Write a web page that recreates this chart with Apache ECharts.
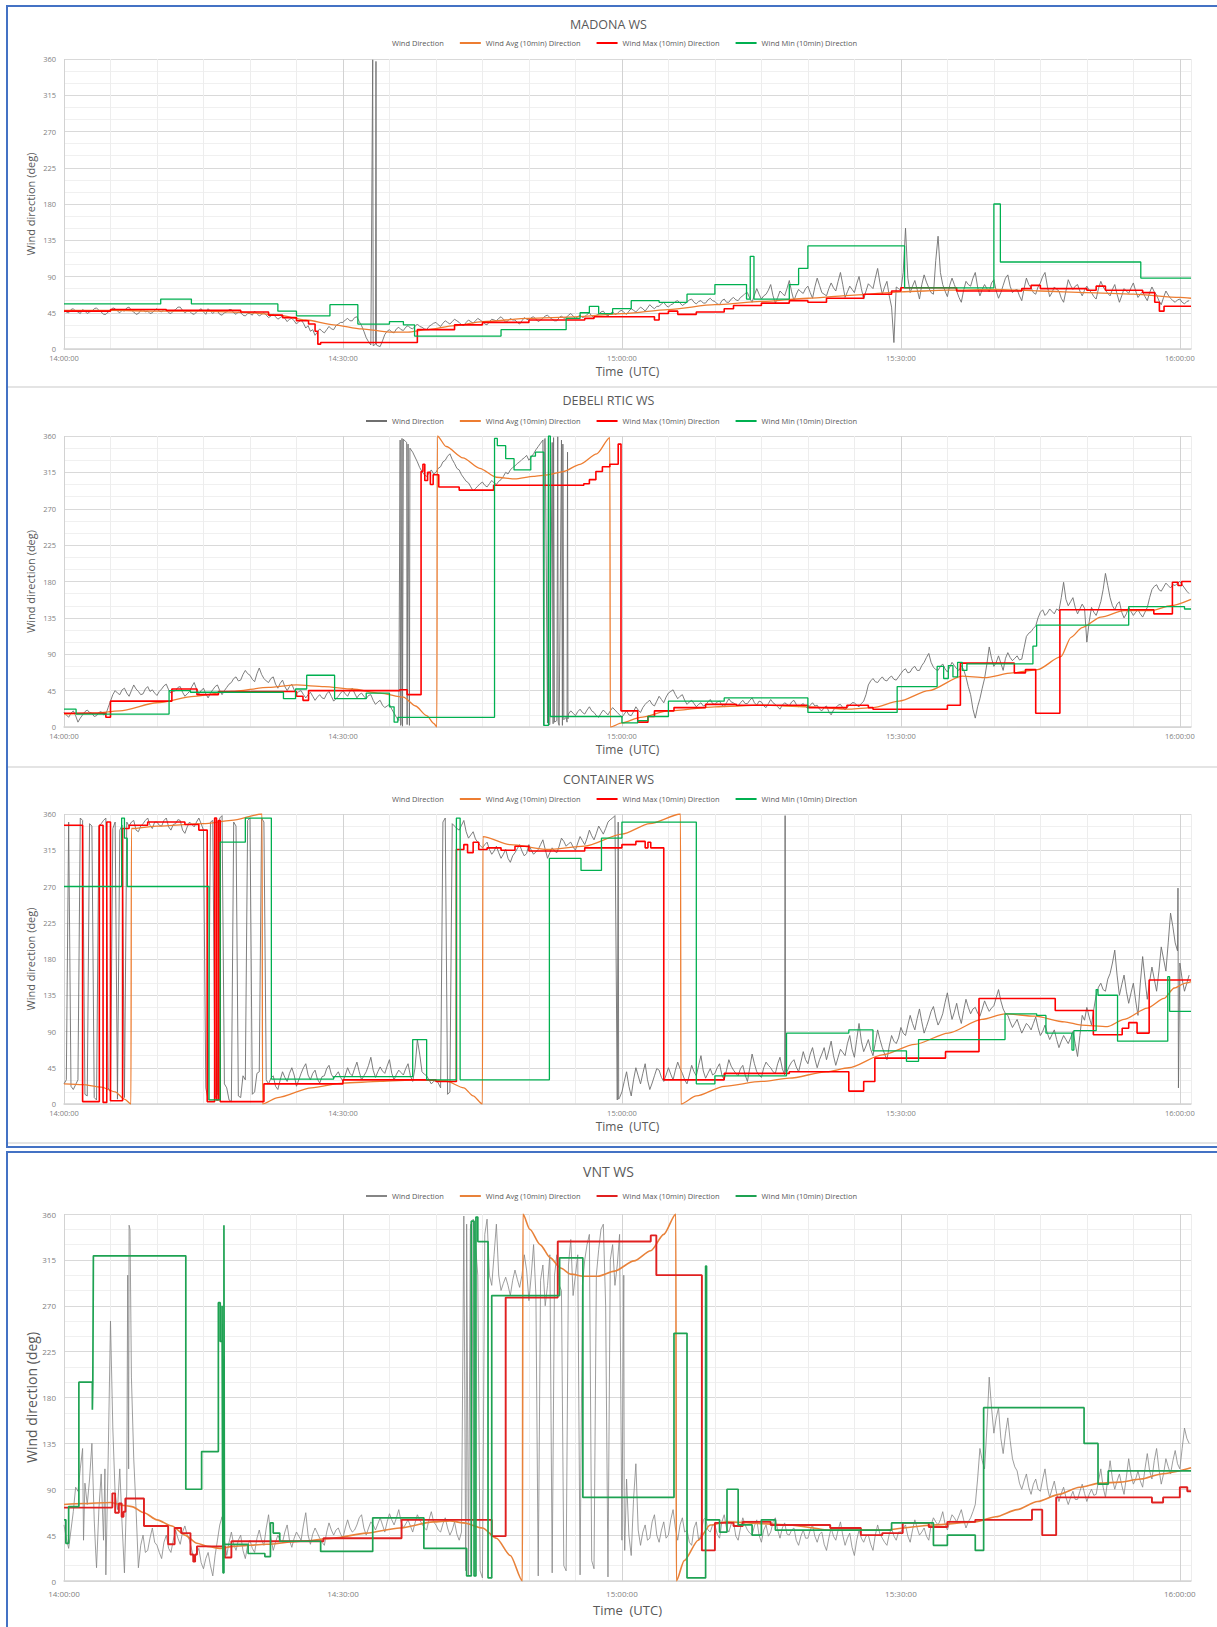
<!DOCTYPE html>
<html>
<head>
<meta charset="utf-8">
<title>Wind direction – weather stations</title>
<script src="https://cdn.jsdelivr.net/npm/echarts@6/dist/echarts.min.js"></script>
<style>
  html, body { margin: 0; padding: 0; background: #fff; width: 1217px; height: 1627px; overflow: hidden; }
  .box { position: absolute; border: 2px solid #4472c4; box-sizing: border-box; }
  .sep { position: absolute; height: 2px; background: #e4e4e4; }
  .chart { position: absolute; left: 0; width: 1217px; }
</style>
</head>
<body>
<div class="box" style="left:6px;top:5px;width:1240px;height:1143px"></div>
<div class="box" style="left:6px;top:1151px;width:1240px;height:520px"></div>
<div class="sep" style="left:8px;top:386px;width:1209px"></div>
<div class="sep" style="left:8px;top:766px;width:1209px"></div>
<div class="sep" style="left:8px;top:1142px;width:1209px"></div>
<div id="madona" class="chart" style="top:0;height:386px"></div>
<div id="debeli" class="chart" style="top:386px;height:380px"></div>
<div id="container" class="chart" style="top:766px;height:376px"></div>
<div id="vnt" class="chart" style="top:1153px;height:474px"></div>
<script>
// Time axis: minutes after 14:00 UTC. Raw direction samples are stored in
// 10-minute blocks of 15-second readings; extra short gusts/wraps are listed separately.
const timeTicks = ['14:00:00', '14:30:00', '15:00:00', '15:30:00', '16:00:00'];
const dirTicks = [0, 45, 90, 135, 180, 225, 270, 315, 360];
const seriesNames = ['Wind Direction', 'Wind Avg (10min) Direction', 'Wind Max (10min) Direction', 'Wind Min (10min) Direction'];
const SAMPLE_STEP = 0.25; // minutes between raw readings

// ---------- MADONA WS ----------
const madonaDir = [
  [48,46,45,49,50,47,46,44,49,47,44,46,47,50,51,48,46,43,43,46,48,51,50,47,45,48,47,51,52,48,46,43,44,48,49,46,47,44,45,48],
  [50,47,46,49,48,45,44,47,49,52,52,48,45,47,47,44,43,46,48,50,46,43,50,47,44,47,47,43,42,45,46,49,49,45,43,46,45,42,41,44],
  [44,42,47,44,41,43,45,42,39,41,43,40,37,39,41,38,34,37,38,35,31,34,36,32,26,29,22,24,17,21,25,22,20,24,28,25,24,29,31,33],
  [33,36,38,35,35,39,40,34,29,22,14,9,5,8,6,4,3,10,18,22,24,21,20,25,27,24,23,27,29,26,25,28,31,28,27,25,24,28,30,32],
  [33,30,28,32,35,33,31,34,37,35,33,30,29,33,36,34,32,35,38,36,34,31,30,34,37,36,35,38,40,37,33,35,38,36,36,33,31,35,39,37],
  [36,39,40,37,34,36,38,41,42,39,37,35,35,39,41,38,39,42,44,41,38,40,42,39,40,43,45,41,39,42,43,46,47,43,41,44,46,43,44,47],
  [48,45,43,47,50,48,46,49,52,50,47,51,55,52,50,53,53,56,58,54,52,55,56,59,60,57,54,56,58,61,62,58,56,59,60,57,57,61,63,60],
  [59,56,55,60,62,58,58,62,64,61,60,64,66,69,70,63,58,67,75,68,62,66,68,73,80,66,57,64,72,69,66,75,85,71,60,68,74,71,69,75],
  [78,70,63,77,88,79,70,68,66,75,82,76,72,84,95,80,64,71,78,74,70,81,90,75,62,72,81,78,75,88,100,82,68,77,84,66,52,8,77,75],
  [73,95,150,88,70,78,85,74,62,80,92,83,76,70,68,110,140,95,80,72,65,79,88,80,72,64,58,73,84,80,78,88,95,77,66,74,80,75,71,82],
  [86,72,63,70,79,88,92,78,70,73,74,66,60,75,88,80,76,70,68,77,82,90,95,78,65,70,77,74,72,63,58,72,86,79,74,78,80,72,66,73],
  [78,73,70,65,62,75,84,77,73,69,66,74,80,68,58,66,75,72,69,76,82,72,64,68,71,65,60,70,77,71,67,60,55,64,72,67,63,60,58,61],
  [62,58,56,59,60]
];
const madonaDirExtra = [[33.2,359],[33.25,4],[33.55,357],[33.6,5]];
const madonaAvg = [[0,48],[5,48],[10,47],[15,47],[20,45],[23,42],[26,36],[29,30],[32,25],[35,21],[37,21],[39,24],[42,29],[45,34],[50,38],[55,40],[60,44],[65,49],[70,55],[75,59],[80,63],[85,67],[90,71],[95,73],[100,74],[105,72],[110,70],[115,68],[120,64],[121.2,63]];
const madonaMax = [[0,47],[5,49],[11,48],[19,46],[22,42],[23.5,39],[25,35],[26.3,31],[27,22],[27.3,6],[27.6,8],[38,24],[42,30],[45,33],[50,36],[56,38],[57,40],[63.5,36],[64,44],[65,47],[66,43],[68,46],[71,50],[72,54],[75,57],[78,60],[80,58],[82,63],[86,68],[89,72],[90,76],[96,72],[103,75],[104,79],[105,75],[110,73],[111,78],[112,73],[116,70],[117.3,58],[117.8,47],[118.3,53],[121.2,53]];
const madonaMin = [[0,56],[10.4,62],[13.7,56],[23,47],[25,41],[28.6,55],[31.6,31],[35,34],[36.5,30],[37.7,16],[47,24],[54,38],[55.5,45],[56.5,53],[57.5,44],[59,50],[61,60],[64,58],[67,68],[70,80],[73.4,62],[73.8,115],[74.2,62],[78,80],[79,100],[80,128],[90.4,76],[100,180],[100.7,108],[115.8,88],[121.2,88]];

// ---------- DEBELI RTIC WS ----------
const debeliDir = [
  [18,15,12,17,20,14,6,11,15,19,21,18,17,13,14,18,19,15,16,24,32,40,45,42,40,46,48,42,38,45,52,47,44,40,41,47,50,44,46,42],
  [39,44,47,51,53,46,42,44,45,49,50,43,38,41,44,50,55,47,41,45,48,41,36,42,46,50,52,45,40,45,49,53,55,60,62,57,58,65,70,66],
  [64,59,56,66,73,65,60,57,55,60,62,53,48,54,58,50,45,50,53,46,41,44,45,40,36,40,43,38,33,37,40,36,35,41,44,38,32,35,38,42],
  [45,41,38,44,48,42,36,40,42,38,35,39,40,33,28,31,33,27,24,26,28,22,17,12,8,4,356,353,350,345,340,334,328,321,316,312,310,314,318,313],
  [315,320,322,328,330,335,338,331,326,320,318,312,308,304,302,297,292,295,298,301,303,299,297,301,305,302,300,304,306,310,315,313,318,321,323,326,328,331,333,336],
  [330,334,338,343,347,351,355,357,5,3,352,6,8,2,355,9,12,16,20,17,14,19,22,18,16,21,25,20,18,14,12,17,21,18,15,20,24,21,18,15],
  [12,16,20,15,14,19,25,21,18,24,28,31,33,28,26,32,38,34,30,37,42,44,46,40,35,38,40,33,28,31,33,29,25,28,30,26,27,31,34,29],
  [28,31,32,27,25,30,35,31,30,27,26,30,33,29,29,33,36,30,27,32,31,26,24,29,34,30,28,25,22,27,30,28,26,31,33,28,25,27,29,25],
  [23,27,30,26,27,22,20,24,26,19,15,21,24,27,28,24,21,25,27,30,30,27,25,29,32,40,52,57,60,56,55,59,62,58,57,61,63,59,58,62],
  [66,70,72,67,68,73,75,70,70,76,80,86,91,80,74,71,70,75,78,72,68,74,80,76,72,70,76,71,62,50,40,22,11,25,35,48,60,78,99,85],
  [75,80,88,79,70,85,92,86,82,85,88,83,84,98,112,116,118,122,125,135,142,145,138,141,146,143,140,146,144,160,179,158,150,155,160,148,140,146,152,147],
  [105,130,148,142,138,146,155,170,190,175,160,150,145,152,155,142,135,140,148,143,138,142,145,140,136,142,148,160,170,174,176,170,168,173,178,175,172,176,175,178],
  [180,176,172,168,165]
];
const debeliDirExtra = [[36.15,355],[36.2,2],[36.35,357],[36.4,1],[36.85,352],[36.9,3],[37.15,2],[37.2,345],
  [51.6,2],[51.65,356],[52.1,357],[52.15,3],[52.6,4],[52.65,358],[53.1,359],[53.15,6],[53.6,2],[53.65,350],[54.1,6],[54.15,340],[54.2,10]];
const debeliAvg = [[0,16],[3,17],[6,20],[10,30],[14,38],[18,44],[22,49],[25,52],[28,50],[31,47],[34,42],[36.5,37],[37.8,26],[39,14],[39.8,4],[40.1,0],[40.15,360],[41.1,347],[42.9,333],[44.7,320],[46.5,309],[48.5,307],[50.5,310],[52,312],[53.7,316],[55.5,325],[57.3,338],[58.7,358],[58.75,0],[60,5],[62,12],[65,20],[70,25],[75,27],[80,25],[84.5,22],[87,24],[89.8,32],[93,45],[96.6,63],[99,61],[102,67],[104.7,71],[107.2,87],[108.3,111],[109.5,123],[111.5,136],[114,144],[117,144],[119,150],[121.2,158]];
const debeliMax = [[0,17],[4.5,12],[5,32],[11.6,47],[14.3,40],[16.6,44],[25,38],[25.7,33],[26.3,45],[36.1,46],[36.9,40],[38.4,316],[38.6,325],[38.8,305],[39.1,315],[39.4,300],[39.7,312],[40.3,297],[42.5,293],[46.2,299],[55.9,301],[56.5,306],[57.2,316],[57.9,322],[58.7,325],[59.6,350],[59.9,20],[61.7,6],[62.8,13],[63.5,20],[65.6,24],[69,28],[72.3,27],[80,24],[84.2,27],[86.5,24],[87,22],[95,27],[96.4,79],[102.2,67],[103.4,71],[104.5,17],[107.1,145],[117.2,140],[119.2,179],[119.8,175],[120.2,180],[121.2,180]];
const debeliMin = [[0,22],[1.3,16],[11.3,45],[13.6,43],[23.6,35],[24.9,47],[26.1,64],[29.1,35],[32.5,42],[35,25],[35.5,6],[35.9,12],[46.3,357],[46.6,348],[47.5,332],[48.4,318],[50.2,335],[50.7,340],[51.6,2],[52.1,360],[52.3,13],[60,5],[61.7,8],[62.8,13],[65,32],[71,36],[80,18],[89.6,50],[93.9,75],[94.6,60],[95.1,76],[95.6,62],[96.1,80],[96.6,70],[97.1,78],[104.2,100],[104.6,126],[114.5,149],[120.5,146],[121.2,146]];

// ---------- CONTAINER WS ----------
const containerDir = [
  [25,30,350,22,18,24,30,355,352,12,10,348,345,8,5,345,348,352,355,20,15,342,350,6,340,346,8,350,345,350,352,340,338,345,348,352,355,346,342,350],
  [350,346,345,352,355,344,340,347,348,353,352,340,336,344,350,347,344,350,355,348,340,20,5,350,352,8,12,355,358,25,20,5,3,350,345,10,8,35,30,352],
  [355,12,15,38,40,355,350,30,25,32,35,22,18,30,40,33,28,38,45,36,22,30,38,45,50,36,30,38,42,31,26,34,35,44,48,37,32,36,40,33],
  [28,36,45,38,35,44,52,40,30,35,40,48,58,42,33,40,46,41,38,47,55,38,30,37,42,39,36,44,50,35,28,45,80,62,40,37,35,30,25,28],
  [30,26,20,350,355,12,15,348,345,342,340,346,352,338,330,334,338,329,325,321,318,322,325,316,310,314,320,312,305,310,316,305,300,308,312,317,322,314,308,311],
  [322,315,310,313,316,322,328,316,305,312,318,314,312,320,330,326,320,323,325,319,315,324,332,327,322,330,340,333,328,336,345,340,335,342,350,353,355,358,5,8],
  [15,28,40,22,10,30,45,35,25,38,50,30,18,26,35,44,42,33,28,36,45,37,30,42,52,44,38,30,25,36,48,40,35,48,60,41,32,38,44,36],
  [38,45,50,36,30,42,55,47,42,38,35,44,48,36,28,45,62,50,40,36,33,45,52,48,45,40,38,50,58,44,36,40,47,52,55,46,40,52,65,55],
  [50,62,70,56,45,55,62,70,55,66,78,60,48,58,68,64,60,75,85,68,58,80,100,78,65,72,80,68,60,76,92,80,70,62,55,72,85,78,75,82],
  [95,88,85,98,110,100,92,106,118,102,88,96,105,115,121,108,98,104,112,126,138,120,105,114,125,110,100,116,130,120,112,118,120,113,109,118,128,121,115,119],
  [122,132,142,128,118,112,110,102,95,100,105,96,88,94,100,97,92,100,108,95,85,90,98,88,80,86,92,80,70,78,85,80,75,82,90,75,59,85,110,104],
  [120,108,98,118,135,145,150,142,140,155,162,175,191,160,135,148,160,140,125,138,150,128,110,150,183,155,130,152,170,155,140,165,195,180,165,200,237,220,200,190],
  [175,155,140,150,160]
];
const containerDirExtra = [[59.6,350],[59.65,6],[77.55,358],[77.6,40],[119.8,268],[119.85,20]];
const containerAvg = [[0,25],[2,24],[4,21],[5.5,15],[6.5,6],[7.2,0],[7.25,342],[10,345],[15,348],[18,352],[21.3,360],[21.35,0],[23,8],[26.6,20],[30,26],[34,28],[38,30],[41,29],[43,20],[44,10],[45,0],[45.05,332],[48,322],[52,316],[56,320],[60,335],[63,348],[66.3,360],[66.35,0],[68,10],[71,22],[75,28],[78,32],[82,40],[84.4,45],[88,61],[91.5,74],[95.1,88],[98.7,105],[101.2,112],[104.4,109],[107.6,102],[109.4,98],[112.2,96],[114,105],[116.5,119],[118.3,131],[119.4,144],[120.6,150],[121.2,152]];
const containerMax = [[0,346],[2,3],[3.8,346],[4.2,2],[4.6,350],[5,4],[6.3,342],[7,346],[9,350],[13,347],[14.5,340],[15.4,3],[16.2,355],[16.4,5],[16.6,352],[16.8,3],[21.5,25],[30,30],[40,28],[42.2,316],[43,322],[43.4,312],[44,325],[44.6,316],[45.5,318],[47,315],[48.5,320],[50,314],[56,318],[60,322],[61.5,326],[62.5,318],[62.8,325],[63.1,318],[64.5,30],[71,38],[78,40],[84.4,16],[86,28],[87.2,57],[94.8,65],[98.4,131],[106.6,116],[110.7,86],[113.8,94],[114.5,101],[115.4,88],[116.7,154],[121.2,154]];
const containerMin = [[0,270],[6,270],[6.2,355],[6.5,330],[6.8,270],[15.4,270],[15.6,5],[16.8,325],[19.5,355],[22.3,31],[29,34],[37.5,80],[39,30],[42.2,355],[42.6,30],[52.2,305],[55.6,290],[57.8,330],[60,350],[68,25],[70,35],[77.7,88],[84.4,92],[87,66],[90.6,53],[91.9,80],[101.2,112],[104.6,110],[105.6,88],[108.4,67],[108.6,91],[111,142],[111.2,135],[113.3,78],[118.7,158],[118.9,115],[121.2,115]];

// ---------- VNT WS ----------
const vntDir = [
  [55,42,32,50,68,92,88,110,130,96,75,100,135,60,13,70,105,40,6,120,255,150,85,70,110,55,8,90,349,200,120,70,13,35,45,28,30,42,52,38],
  [35,28,22,38,45,32,28,40,50,42,36,48,54,45,40,30,20,27,32,18,12,22,28,15,5,25,40,55,63,40,25,38,48,36,30,40,45,30,22,35],
  [40,32,28,42,50,40,35,52,65,42,30,38,45,40,38,48,55,40,33,42,48,44,40,55,67,45,36,46,52,47,42,38,35,48,57,50,45,50,52,46],
  [42,52,60,52,48,50,55,62,65,52,45,52,58,55,50,56,62,55,48,58,66,60,55,62,70,58,52,56,60,54,48,57,65,60,56,52,50,60,68,58],
  [55,50,48,56,62,52,45,50,58,46,40,48,358,60,5,350,355,330,300,10,3,340,355,300,290,320,350,300,285,292,298,290,280,295,305,296,288,300,320,305],
  [275,300,330,280,5,295,310,270,290,320,8,300,320,290,285,15,10,310,335,280,300,320,6,290,315,330,340,20,12,300,325,345,350,270,4,315,330,290,310,340],
  [40,60,100,45,25,80,115,50,35,48,55,40,42,58,65,45,38,50,58,42,45,60,70,52,40,55,62,48,50,38,35,52,58,40,45,60,62,50,48,55],
  [55,46,42,58,65,52,48,56,58,44,40,52,62,55,50,47,45,54,60,45,38,50,55,44,48,58,62,50,42,52,57,46,45,50,52,40,35,44,50,42],
  [42,50,55,44,38,46,48,36,30,42,52,44,40,50,58,45,35,42,47,33,25,40,50,42,38,44,45,36,30,45,55,46,42,38,35,46,52,44,40,48],
  [48,52,55,44,38,50,60,52,45,48,52,44,40,55,62,58,55,60,68,56,50,58,65,62,58,64,70,60,52,58,62,68,75,100,130,118,110,150,200,170],
  [145,160,170,140,125,145,160,138,120,112,108,96,90,98,105,92,85,95,100,90,88,100,110,92,82,90,98,86,78,86,92,82,75,82,88,80,80,88,95,86],
  [78,85,90,84,85,98,110,92,82,100,118,100,90,98,105,94,85,102,120,104,95,100,108,98,92,110,125,108,100,118,130,110,95,105,120,112,105,118,128,115],
  [110,130,150,140,135]
];
const vntDirExtra = [[2.1,40],[3.4,30],[4.4,110],[6.85,300],[6.95,110],[7.1,345],
  [43.2,10],[43.3,350],[43.7,345],[43.8,8],[60.2,300],[60.3,30]];
const vntAvg = [[0,75],[2,76],[5,77],[6.5,74],[7.3,73],[8.6,67],[10,60],[11.6,54],[13,45],[14.3,37],[15.4,34],[16.8,32],[18.2,34],[21.8,36],[25.4,39],[29,42],[32.5,47],[36.1,52],[39.7,58],[41.5,59],[43,57],[45,52],[46.5,42],[48,25],[49.3,0],[49.35,360],[50.1,345],[51.2,330],[52.3,317],[53.4,307],[54.5,301],[55.9,299],[57.4,299],[59.2,304],[61.3,314],[63.1,324],[64.5,340],[65.8,360],[65.85,0],[66.7,20],[68.2,40],[69.5,55],[71.2,58],[78,55],[82.4,50],[88,50],[93.5,55],[98,58],[100.2,63],[102.5,70],[104.7,78],[107,85],[109.2,92],[111.4,96],[113.6,97],[115.8,100],[118,105],[121.2,111]];
const vntMax = [[0,72],[5.2,86],[5.5,67],[5.9,76],[6.2,63],[6.4,68],[6.6,81],[8.6,54],[11.2,36],[11.9,52],[12.6,47],[13.6,26],[13.9,19],[14.1,26],[14.3,34],[17.3,23],[18,39],[27.9,42],[36.3,60],[46,44],[47.5,278],[53.1,333],[63.1,339],[63.7,300],[68.6,30],[70,57],[72,54],[73,58],[76,55],[82.4,52],[85.7,45],[88,47],[90.2,57],[93,53],[95,58],[98,60],[104.1,70],[105.2,45],[106.7,82],[117,77],[118.2,82],[120,92],[120.8,88],[121.2,88]];
const vntMin = [[0,60],[0.2,37],[0.5,73],[1.6,195],[3.05,168],[3.1,195],[3.16,319],[13.1,90],[14.8,127],[16.6,273],[16.8,235],[17,270],[17.05,96],[17.1,8],[17.2,349],[17.25,36],[19.8,27],[21.6,24],[22.2,57],[22.5,47],[23.2,39],[27.6,29],[33.2,62],[38.7,32],[43.3,5],[43.8,353],[44.1,5],[44.3,357],[44.5,333],[45.6,3],[46,280],[53.3,317],[55.8,82],[65.6,243],[67,3],[69,309],[69.1,60],[70.5,48],[71.3,90],[72.5,55],[74,45],[75,60],[76.5,50],[78,50],[89,57],[93.5,35],[95,45],[98,30],[98.9,170],[109.7,135],[111.2,95],[112.3,108],[121.2,108]];

const FONT = "'Open Sans', 'Noto Sans', 'DejaVu Sans', sans-serif";
const X_MAX = 121.2;

// 15-second blocks -> [minute, degrees] pairs, merged with the extra readings
function expandBlocks(blocks, extra) {
  const pts = [];
  blocks.forEach((blk, k) => blk.forEach((v, i) => pts.push([k * 10 + i * SAMPLE_STEP, v])));
  extra.forEach(p => pts.push(p.slice()));
  pts.sort((a, b) => a[0] - b[0]);
  return pts;
}

function timeLabel(v) {
  const r = Math.round(v);
  if (Math.abs(v - r) > 1e-6 || r % 30 !== 0) return '';
  return timeTicks[r / 30] || '';
}
function dirLabel(v) {
  return dirTicks.indexOf(v) >= 0 ? String(v) : '';
}

function buildPanel(id, p) {
  const chart = echarts.init(document.getElementById(id), null, { renderer: 'svg' });
  const st = p.style;
  const legendData = seriesNames.map((n, i) => {
    if (i === 0 && p.hideDirIcon) return { name: n, itemStyle: { opacity: 0 } };
    return { name: n };
  });
  chart.setOption({
    animation: false,
    backgroundColor: 'transparent',
    textStyle: { fontFamily: FONT },
    title: {
      text: p.title, left: 'center', top: p.titleTop,
      textStyle: { fontFamily: FONT, fontSize: st.titleSize, fontWeight: 'normal', color: '#595959' }
    },
    legend: {
      left: 361, top: p.legendTop, itemGap: 16, itemWidth: 21, itemHeight: 2, icon: 'rect',
      textStyle: { fontFamily: FONT, fontSize: st.legendSize, color: '#595959' },
      data: legendData
    },
    grid: { left: 64, right: 26, top: p.gridTop, height: p.gridHeight },
    xAxis: {
      type: 'value', min: 0, max: X_MAX, interval: 5,
      axisLine: { lineStyle: { color: '#d4d4d4', width: 1.5 } },
      axisTick: { show: false },
      axisLabel: { formatter: timeLabel, fontFamily: FONT, fontSize: st.tickSize, color: '#7f7f7f', margin: st.xLabelMargin, showMaxLabel: false },
      splitLine: { show: true, lineStyle: { width: 1, color: ['#d2d2d2', '#ededed', '#ededed', '#ededed', '#ededed', '#ededed'] } },
      name: 'Time  (UTC)', nameLocation: 'middle', nameGap: st.timeGap, nameMoveOverlap: false,
      nameTextStyle: { fontFamily: FONT, fontSize: st.timeSize, color: '#595959' }
    },
    yAxis: {
      type: 'value', min: 0, max: 360, interval: 15,
      axisLine: { show: false }, axisTick: { show: false },
      axisLabel: { formatter: dirLabel, fontFamily: FONT, fontSize: st.tickSize, color: '#7f7f7f', margin: 8 },
      splitLine: { show: true, lineStyle: { width: 1, color: ['#d9d9d9', '#f0f0f0', '#f0f0f0'] } },
      name: 'Wind direction (deg)', nameLocation: 'middle', nameGap: st.yNameGap, nameMoveOverlap: false,
      nameTextStyle: { fontFamily: FONT, fontSize: st.yNameSize, color: '#595959' }
    },
    series: [
      { name: seriesNames[0], type: 'line', data: p.dir, symbol: 'none', silent: true,
        lineStyle: { color: st.dirColor, width: st.dirWidth }, itemStyle: { color: st.dirColor }, z: 2 },
      { name: seriesNames[1], type: 'line', data: p.avg, symbol: 'none', smooth: 0.25, smoothMonotone: 'x',
        lineStyle: { color: st.avgColor, width: st.avgWidth }, itemStyle: { color: st.avgColor }, z: 3 },
      { name: seriesNames[2], type: 'line', step: 'end', data: p.max, symbol: 'none',
        lineStyle: { color: st.maxColor, width: st.maxWidth }, itemStyle: { color: st.maxColor }, z: 4 },
      { name: seriesNames[3], type: 'line', step: 'end', data: p.min, symbol: 'none',
        lineStyle: { color: st.minColor, width: st.minWidth }, itemStyle: { color: st.minColor }, z: 5 }
    ]
  });
}

const upperStyle = {
  titleSize: 12.5, legendSize: 7.5, tickSize: 7.5, timeSize: 12, yNameSize: 11,
  xLabelMargin: 5, timeGap: 16, yNameGap: 28,
  dirColor: '#6f6f6f', dirWidth: 0.9,
  avgColor: '#ed7d31', avgWidth: 1.3,
  maxColor: '#ff0000', maxWidth: 1.6,
  minColor: '#00b050', minWidth: 1.3
};
const lowerStyle = {
  titleSize: 14, legendSize: 7.5, tickSize: 8, timeSize: 13, yNameSize: 14,
  xLabelMargin: 8, timeGap: 22, yNameGap: 26,
  dirColor: '#858585', dirWidth: 0.8,
  avgColor: '#e8823a', avgWidth: 1.6,
  maxColor: '#e02020', maxWidth: 1.9,
  minColor: '#1ea252', minWidth: 1.7
};

buildPanel('madona', { title: 'MADONA WS', titleTop: 13, legendTop: 34, gridTop: 59, gridHeight: 290, hideDirIcon: true,
  style: upperStyle, dir: expandBlocks(madonaDir, madonaDirExtra), avg: madonaAvg, max: madonaMax, min: madonaMin });
buildPanel('debeli', { title: 'DEBELI RTIC WS', titleTop: 3, legendTop: 26, gridTop: 50, gridHeight: 291, hideDirIcon: false,
  style: upperStyle, dir: expandBlocks(debeliDir, debeliDirExtra), avg: debeliAvg, max: debeliMax, min: debeliMin });
buildPanel('container', { title: 'CONTAINER WS', titleTop: 2, legendTop: 24, gridTop: 48, gridHeight: 290, hideDirIcon: true,
  style: upperStyle, dir: expandBlocks(containerDir, containerDirExtra), avg: containerAvg, max: containerMax, min: containerMin });
buildPanel('vnt', { title: 'VNT WS', titleTop: 6, legendTop: 34, gridTop: 61, gridHeight: 367, hideDirIcon: false,
  style: lowerStyle, dir: expandBlocks(vntDir, vntDirExtra), avg: vntAvg, max: vntMax, min: vntMin });
</script>
</body>
</html>
